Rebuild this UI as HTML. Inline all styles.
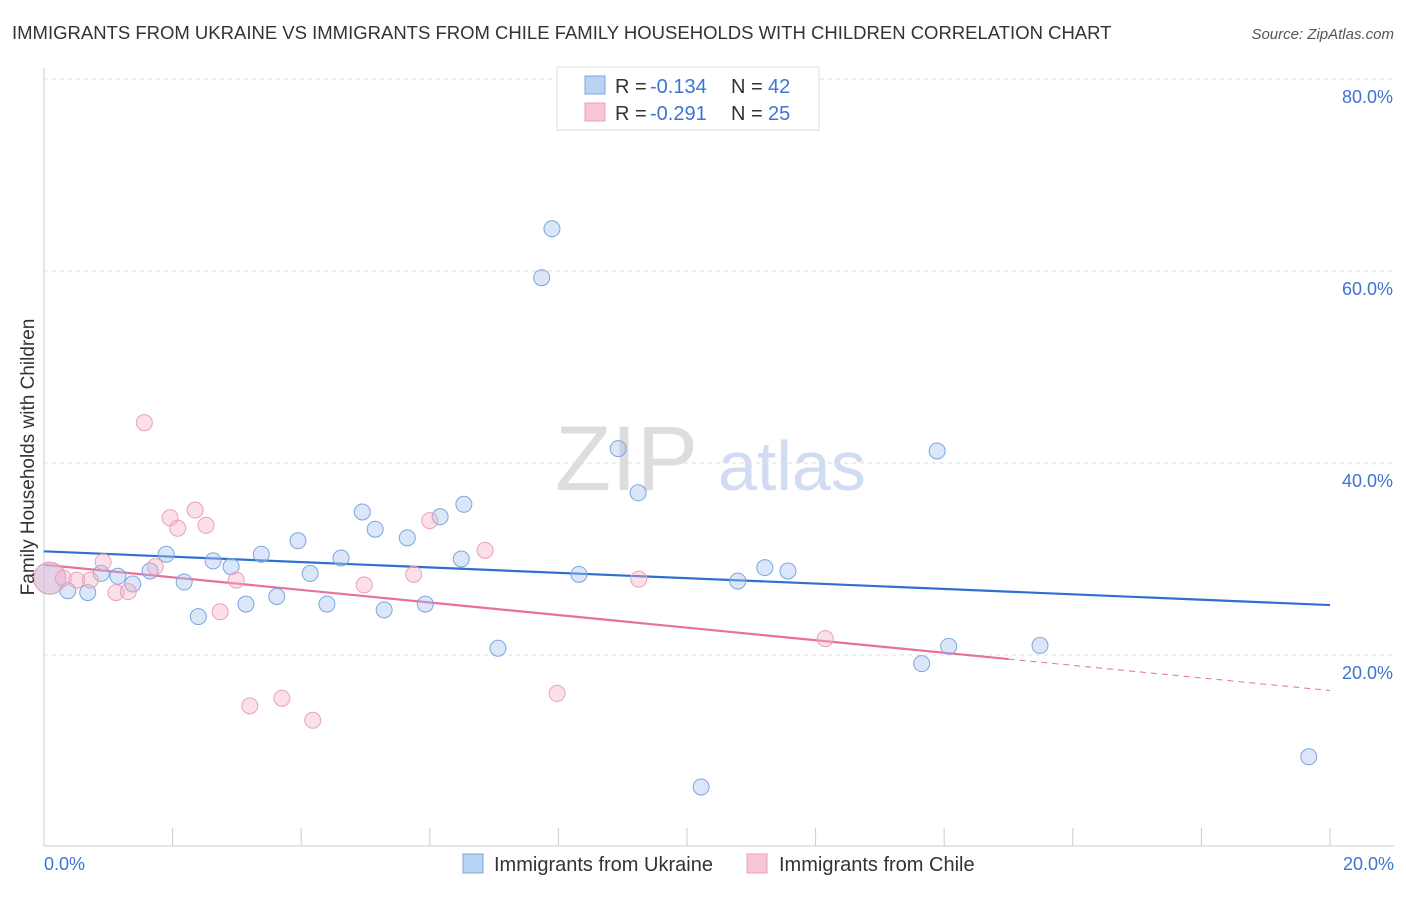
<!DOCTYPE html>
<html><head><meta charset="utf-8">
<style>
body{margin:0;background:#fff;font-family:"Liberation Sans",sans-serif;}
svg text{font-family:"Liberation Sans",sans-serif;}
</style></head>
<body>
<svg id="chart" width="1406" height="892" xmlns="http://www.w3.org/2000/svg">
<text x="12" y="39" font-size="18.5" fill="#333">IMMIGRANTS FROM UKRAINE VS IMMIGRANTS FROM CHILE FAMILY HOUSEHOLDS WITH CHILDREN CORRELATION CHART</text>
<text x="1394" y="39" font-size="15" fill="#555" text-anchor="end" font-style="italic">Source: ZipAtlas.com</text>
<g>
<text x="555" y="490" font-size="92" fill="#ddd" font-family="Liberation Serif,serif">ZIP</text>
<text x="718" y="490" font-size="70" fill="#cfdcf2">atlas</text>
</g>
<g id="grid"></g>
<g id="axes"></g>
<g id="lines"></g>
<g id="pts"></g>
<text transform="translate(34,457) rotate(-90)" font-size="19" fill="#333" text-anchor="middle">Family Households with Children</text>
<g>
<rect x="557" y="67" width="262" height="63" fill="#fff" stroke="#ddd"/>
<rect x="585" y="76" width="20" height="18" fill="#b9d3f5" stroke="#7aa6e0"/>
<rect x="585" y="103" width="20" height="18" fill="#f9c6d6" stroke="#eaa0b8"/>
<text x="615" y="93" font-size="20" fill="#333">R =</text>
<text x="650" y="93" font-size="20" fill="#3d74d4">-0.134</text>
<text x="731" y="93" font-size="20" fill="#333">N =</text>
<text x="768" y="93" font-size="20" fill="#3d74d4">42</text>
<text x="615" y="120" font-size="20" fill="#333">R =</text>
<text x="650" y="120" font-size="20" fill="#3d74d4">-0.291</text>
<text x="731" y="120" font-size="20" fill="#333">N =</text>
<text x="768" y="120" font-size="20" fill="#3d74d4">25</text>
</g>
<g>
<rect x="463" y="854" width="20" height="19" fill="#b9d3f5" stroke="#7aa6e0"/>
<text x="494" y="871" font-size="20" fill="#333">Immigrants from Ukraine</text>
<rect x="747" y="854" width="20" height="19" fill="#f9c6d6" stroke="#eaa0b8"/>
<text x="779" y="871" font-size="20" fill="#333">Immigrants from Chile</text>
</g>
</svg>
<script>
const ukraineX=[0.09,0.37,0.68,0.89,1.15,1.38,1.65,1.90,2.18,2.40,2.63,2.91,3.14,3.38,3.62,3.95,4.14,4.40,4.62,4.95,5.15,5.29,5.65,5.93,6.16,6.49,6.53,7.06,7.74,7.90,8.32,8.93,9.24,10.22,10.79,11.21,11.57,13.65,13.89,14.07,15.49,19.67];
const ukraineY=[28.0,26.7,26.5,28.5,28.2,27.4,28.75,30.5,27.6,24.0,29.8,29.2,25.3,30.5,26.1,31.9,28.5,25.3,30.1,34.9,33.1,24.7,32.2,25.3,34.4,30.0,35.7,20.7,59.3,64.4,28.4,41.5,36.9,6.25,27.7,29.1,28.75,19.1,41.25,20.9,21.0,9.4];
const chileX=[0.09,0.30,0.51,0.72,0.92,1.12,1.31,1.56,1.73,1.96,2.08,2.35,2.52,2.74,2.99,3.20,3.70,4.18,4.98,5.75,6.0,6.86,7.98,9.25,12.15];
const chileY=[28.0,28.0,27.8,27.8,29.7,26.5,26.6,44.2,29.2,34.3,33.2,35.1,33.5,24.5,27.8,14.7,15.5,13.2,27.3,28.4,34.0,30.9,16.0,27.9,21.7];
const ukraineTrend=[30.8,25.2];
const chileTrend=[29.4,16.3];
const chileSolidEnd=15.0;
const yTicks=[20,40,60,80];
const xTicks=[0,2,4,6,8,10,12,14,16,18,20];
const NS="http://www.w3.org/2000/svg";
const sx=v=>44+v*64.3, sy=v=>847-v*9.6;
function mk(tag,attrs,parent){const e=document.createElementNS(NS,tag);for(const k in attrs)e.setAttribute(k,attrs[k]);document.getElementById(parent).appendChild(e);return e;}
yTicks.forEach(t=>{
 const l=mk('line',{x1:44,x2:1394,y1:sy(t),y2:sy(t),stroke:'#ddd','stroke-dasharray':'4,4'},'grid');
 
 
 const tx=mk('text',{x:1393,y:sy(t)+24,'font-size':18,fill:'#3d74d4','text-anchor':'end'},'grid');
 tx.textContent=t.toFixed(1)+'%';
 
 
});
mk('line',{x1:44,x2:44,y1:68,y2:846,stroke:'#ccc'},'axes');
mk('line',{x1:44,x2:1394,y1:846,y2:846,stroke:'#ccc'},'axes');
xTicks.forEach(t=>{
 const l=mk('line',{x1:sx(t),x2:sx(t),y1:828,y2:846,stroke:'#ccc'},'axes');
 
 
});
[[0,'start',44],[20,'end',1394]].forEach(([v,a,x])=>{
 const tx=mk('text',{x:x,y:870,'font-size':18,fill:'#3d74d4','text-anchor':a},'axes');
 tx.textContent=v.toFixed(1)+'%';
 
 
});
let ln=mk('line',{x1:sx(0),y1:sy(ukraineTrend[0]),x2:sx(20),y2:sy(ukraineTrend[1]),stroke:'#2f6fd0','stroke-width':2.2},'lines');


const cy=x=>chileTrend[0]+(chileTrend[1]-chileTrend[0])*x/20;
ln=mk('line',{x1:sx(0),y1:sy(cy(0)),x2:sx(chileSolidEnd),y2:sy(cy(chileSolidEnd)),stroke:'#e8709a','stroke-width':2.2},'lines');


ln=mk('line',{x1:sx(chileSolidEnd),y1:sy(cy(chileSolidEnd)),x2:sx(20),y2:sy(cy(20)),stroke:'#e8709a','stroke-width':1,'stroke-dasharray':'6,5'},'lines');


ukraineX.forEach((x,i)=>{
 const c=mk('circle',{cx:sx(x),cy:sy(ukraineY[i]),r:i===0?16:8,fill:'rgba(164,196,240,0.4)',stroke:'#7aa6e0','stroke-width':1},'pts');
 
 
});
chileX.forEach((x,i)=>{
 const c=mk('circle',{cx:sx(x),cy:sy(chileY[i]),r:i===0?16:8,fill:'rgba(246,178,202,0.4)',stroke:'#eaa0b8','stroke-width':1},'pts');
 
 
});
</script>
</body></html>
